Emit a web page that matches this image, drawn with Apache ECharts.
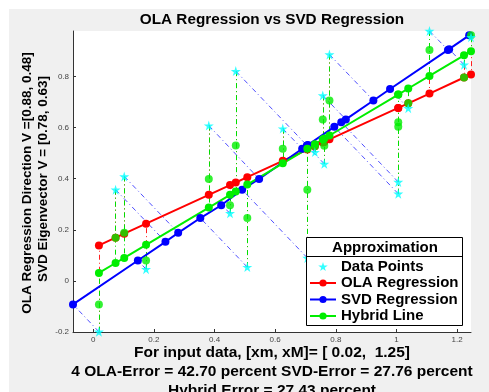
<!DOCTYPE html>
<html>
<head>
<meta charset="utf-8">
<script src="https://cdn.jsdelivr.net/npm/echarts@6/dist/echarts.min.js"></script>
<style>
html,body{margin:0;padding:0;background:#fff;}
#c{width:489px;height:392px;}
</style>
</head>
<body>
<div id="c"></div>
<script>
// ---- data ----
const xs     = [0.0185,0.0735,0.102,0.174,0.381,0.451,0.470,0.508,0.625,0.706,0.731,0.757,0.762,0.779,1.006,1.006,1.039,1.109,1.223,1.246];
const starY  = [-0.199,0.357,0.409,0.046,0.608,0.265,0.821,0.054,0.596,0.090,0.504,0.726,0.458,0.886,0.387,0.341,0.676,0.978,0.846,0.954];
const olaY   = [0.139,0.169,0.185,0.224,0.337,0.375,0.385,0.406,0.470,0.514,0.527,0.542,0.544,0.554,0.677,0.677,0.695,0.733,0.796,0.808];
const hybY   = [0.031,0.070,0.090,0.141,0.287,0.337,0.350,0.377,0.460,0.517,0.535,0.553,0.557,0.569,0.729,0.729,0.753,0.802,0.883,0.899];
const svdX   = [-0.067,0.238,0.280,0.147,0.547,0.422,0.705,0.353,0.689,0.491,0.708,0.833,0.705,0.924,0.818,0.795,0.979,1.170,1.174,1.240];
const svdY   = [-0.092,0.153,0.188,0.080,0.399,0.296,0.530,0.246,0.517,0.357,0.532,0.632,0.529,0.706,0.621,0.603,0.751,0.904,0.907,0.961];
const pickY  = [-0.092,0.169,0.188,0.080,0.399,0.296,0.530,0.246,0.517,0.357,0.527,0.632,0.529,0.706,0.621,0.603,0.695,0.904,0.796,0.961];
const xTicks = [0,0.2,0.4,0.6,0.8,1,1.2];
const yTicks = [-0.2,0,0.2,0.4,0.6,0.8];
const titleText = 'OLA Regression vs SVD Regression';
const yLabel1 = 'OLA Regression Direction V =[0.88, 0.48]';
const yLabel2 = 'SVD Eigenvector V = [0.78, 0.63]';
const xLabel1 = 'For input data, [xm, xM]= [ 0.02,  1.25]';
const xLabel2 = '4 OLA-Error = 42.70 percent SVD-Error = 27.76 percent';
const xLabel3 = 'Hybrid Error = 27.43 percent';
const legendTitle = 'Approximation';
const names = ['Data Points','OLA Regression','SVD Regression','Hybrid Line'];

const FONT = '"Liberation Sans", Arial, Helvetica, sans-serif';
const STAR = 'path://M50,0 L61,35 L98,35 L68,57 L79,91 L50,70 L21,91 L32,57 L2,35 L39,35 Z';
const DASHDOT = [5,3,1,3];

const redSeg = xs.map((x,i)=>({coords:[[x,starY[i]],[x,olaY[i]]]}));
const grnSeg = xs.map((x,i)=>({coords:[[x,starY[i]],[x,hybY[i]]]}));
const bluSeg = xs.map((x,i)=>({coords:[[x,starY[i]],[svdX[i],svdY[i]]]}));
const redLine = xs.map((x,i)=>[x,olaY[i]]);
const grnLine = xs.map((x,i)=>[x,hybY[i]]);
const bluLine = svdX.map((x,i)=>[x,svdY[i]]).sort((a,b)=>a[0]-b[0]);
const pickPts = xs.map((x,i)=>[x,pickY[i]]);
const stars = xs.map((x,i)=>[x,starY[i]]);

const chart = echarts.init(document.getElementById('c'), null, {renderer:'canvas'});
const fmt = v => String(Math.round(v*10)/10);
const txt = (s, x, y, size, rot) => ({type:'text', x:x, y:y, rotation:rot||0, z:11,
  style:{text:s, fontFamily:FONT, fontWeight:'bold', fontSize:size, fill:'#000', align:'center', verticalAlign:'middle'}});
chart.setOption({
  animation:false,
  backgroundColor:'#ffffff',
  grid:{left:73, top:31, right:18, bottom:60, show:true, backgroundColor:'#ffffff', borderWidth:0},
  xAxis:{type:'value', min:-0.067, max:1.246,
    axisLine:{show:true, onZero:false, lineStyle:{color:'#333', width:1}},
    axisTick:{show:true, inside:true, length:3, customValues:xTicks, lineStyle:{color:'#333'}},
    axisLabel:{show:true, customValues:xTicks, formatter:fmt, fontSize:8, color:'#444', margin:4, fontFamily:FONT},
    splitLine:{show:false}},
  yAxis:{type:'value', min:-0.2, max:0.978,
    axisLine:{show:true, onZero:false, lineStyle:{color:'#333', width:1}},
    axisTick:{show:true, inside:true, length:3, customValues:yTicks, lineStyle:{color:'#333'}},
    axisLabel:{show:true, customValues:yTicks, formatter:fmt, fontSize:8, color:'#444', margin:4, fontFamily:FONT},
    splitLine:{show:false}},
  legend:{data:names, orient:'vertical', left:309, top:259, padding:0, itemWidth:26, itemHeight:9, itemGap:1.5,
    selectedMode:false, z:20,
    textStyle:{fontFamily:FONT, fontWeight:'bold', fontSize:15, color:'#000', lineHeight:15}},
  graphic:[
    {type:'rect', shape:{x:9,y:9,width:480,height:383}, style:{fill:'#f0f0f0'}, silent:true, z:-10},
    {type:'rect', shape:{x:73,y:31,width:398,height:301}, style:{fill:'#fff'}, silent:true, z:-9},
    {type:'rect', shape:{x:306.5,y:237.5,width:156,height:88}, style:{fill:'#fff', stroke:'#000', lineWidth:1}, z:10, silent:true},
    {type:'line', shape:{x1:306.5,y1:256.5,x2:462.5,y2:256.5}, style:{stroke:'#000', lineWidth:1}, z:11, silent:true},
    txt(legendTitle, 385, 247.5, 15),
    txt(titleText, 272, 19.5, 15.3),
    txt(yLabel1, 27, 183, 13.5, Math.PI/2),
    txt(yLabel2, 43, 179, 13.5, Math.PI/2),
    txt(xLabel1, 272, 353, 15.5),
    txt(xLabel2, 272, 372, 15.5),
    txt(xLabel3, 272, 391, 15.5)
  ],
  series:[
    {type:'lines', coordinateSystem:'cartesian2d', data:redSeg, silent:true, z:2,
      lineStyle:{color:'#ff2020', width:1, type:DASHDOT, opacity:1}},
    {type:'lines', coordinateSystem:'cartesian2d', data:grnSeg, silent:true, z:2,
      lineStyle:{color:'#00e000', width:1, type:DASHDOT, opacity:1}},
    {type:'lines', coordinateSystem:'cartesian2d', data:bluSeg, silent:true, z:2,
      lineStyle:{color:'#5050ff', width:1, type:DASHDOT, opacity:1}},
    {name:'Data Points', type:'scatter', data:[], symbol:STAR, symbolSize:10, itemStyle:{color:'#00ffff'}},
    {name:'OLA Regression', type:'line', data:redLine, z:3, symbol:'circle', symbolSize:8, showAllSymbol:true,
      lineStyle:{color:'#ff0000', width:2}, itemStyle:{color:'#ff0000', borderWidth:0}},
    {name:'SVD Regression', type:'line', data:bluLine, z:3, symbol:'circle', symbolSize:8, showAllSymbol:true,
      lineStyle:{color:'#0000ff', width:2}, itemStyle:{color:'#0000ff', borderWidth:0}},
    {name:'Hybrid Line', type:'line', data:grnLine, z:3, symbol:'circle', symbolSize:8, showAllSymbol:true,
      lineStyle:{color:'#00ee00', width:2}, itemStyle:{color:'#00ee00', borderWidth:0}},
    {type:'scatter', data:pickPts, z:4, symbol:'circle', symbolSize:8, itemStyle:{color:'#00ee00'}},
    {type:'scatter', data:stars, z:5, symbol:STAR, symbolSize:10, itemStyle:{color:'#00ffff'}, clip:false}
  ]
});
</script>
</body>
</html>
